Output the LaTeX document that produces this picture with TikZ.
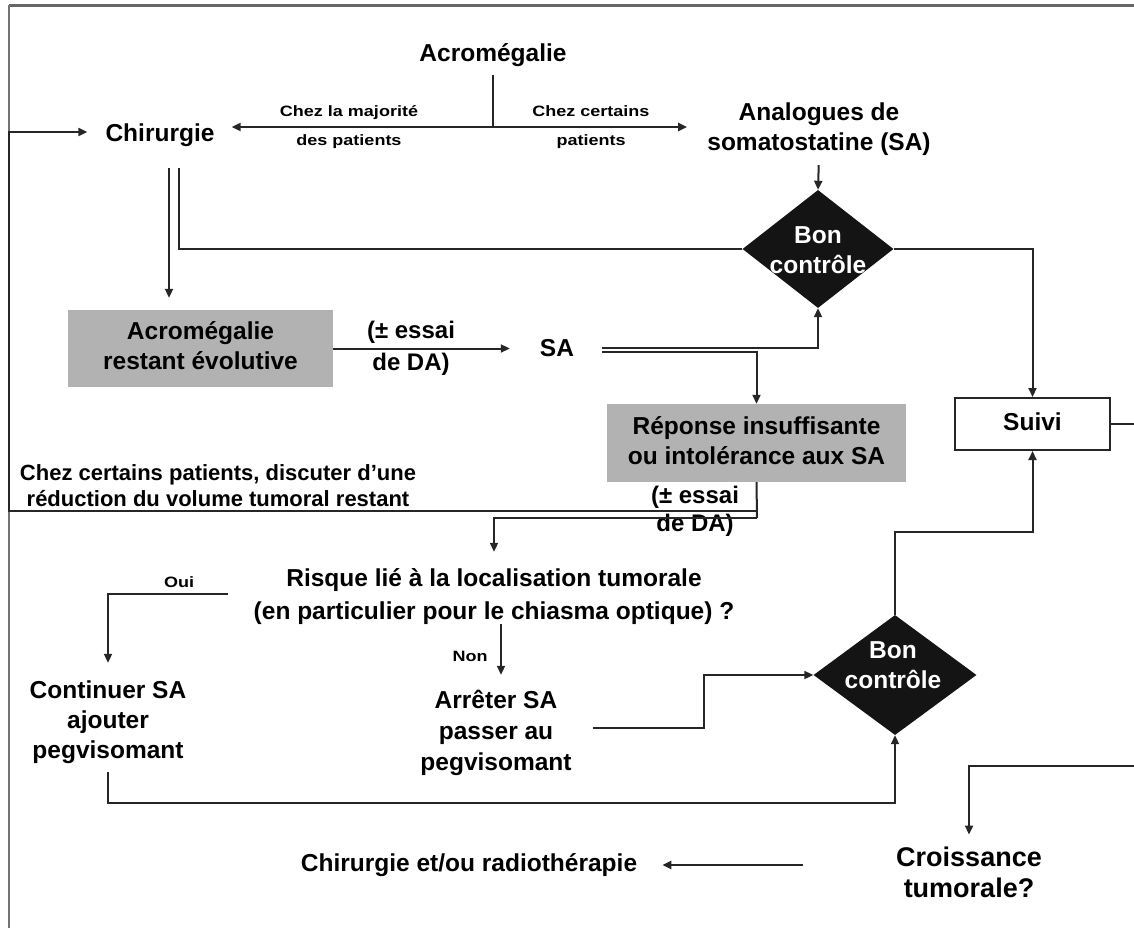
\documentclass[tikz,border=0pt]{standalone}
\usepackage{fontspec}
\setmainfont{Liberation Sans}
\newfontfamily\widefont[FakeStretch=1.2]{Liberation Sans}
\usetikzlibrary{arrows.meta,shapes.geometric}
\newcommand{\fs}[2]{\fontsize{#1}{#2}\selectfont\bfseries}
\newcommand{\wfs}{\widefont\fontsize{15}{18}\selectfont\bfseries}
\begin{document}
\begin{tikzpicture}[x=1pt,y=-1pt,
  ln/.style={line width=2pt, draw=black!85},
  arr/.style={ln, -{Triangle[length=9pt,width=8pt]}},
  txt/.style={inner sep=0pt, align=center, text height=17pt, text depth=5pt, font=\fs{24.5}{30}},
  sml/.style={inner sep=0pt, font=\wfs, text height=11pt, text depth=3pt},
  dia/.style={diamond, fill=black!92, draw=none, inner sep=0pt},
  greybox/.style={txt, fill=gray!60}
]
\useasboundingbox (0,0) rectangle (1134,928);
% frame
\draw[line width=3pt, draw=black!60] (9,6) -- (1134,6);
\draw[line width=1.5pt, draw=black!55] (9,5) -- (9,928);

% nodes
\node[txt] (acro) at (493,56) {Acromégalie};
\node[txt] (chir) at (160,136) {Chirurgie};
\node[txt, text height=47pt] (sa1) at (819,130) {Analogues de\\somatostatine (SA)};
\node[dia, minimum width=151pt, minimum height=118pt] (d1) at (818,249) {};
\node[txt, text=white, text height=47pt] (d1t) at (818,252) {Bon\\contrôle};
\node[greybox, text height=47pt, minimum width=265pt, minimum height=77pt] (box1) at (200.5,348.5) {Acromégalie\\restant évolutive};
\node[txt] (sa2) at (557,350) {SA};
\node[greybox, text height=47pt, minimum width=299pt, minimum height=78pt] (box2) at (756.5,443) {Réponse insuffisante\\ou intolérance aux SA};
\node[txt, draw=black!85, fill=white, line width=2pt, minimum width=155pt, minimum height=52pt] (suivi) at (1032.5,424) {Suivi};
\node[txt, font=\fs{24}{32}, text height=49pt] (ess1) at (411,348) {(± essai\\de DA)};
\node[txt, font=\fs{24}{28}, text height=45pt] (ess2) at (695,511) {(± essai\\de DA)};
\node[txt, font=\fs{22}{26}, text height=41pt, text depth=4.5pt] (chez) at (218,488) {Chez certains patients, discuter d’une\\réduction du volume tumoral restant};
\node[txt, font=\fs{24.5}{33}, text height=50pt] (risque) at (494,596.5) {Risque lié à la localisation tumorale\\(en particulier pour le chiasma optique) ?};
\node[txt, text height=77pt] (cont) at (108,722) {Continuer SA\\ajouter\\pegvisomant};
\node[txt, font=\fs{24.5}{31}, text height=79pt] (stop) at (496,733) {Arrêter SA\\passer au\\pegvisomant};
\node[dia, minimum width=163pt, minimum height=120pt] (d2) at (895,675) {};
\node[txt, text=white, text height=47pt] (d2t) at (893,667) {Bon\\contrôle};
\node[txt, font=\fs{27}{31}, text height=50.5pt, text depth=6pt] (croiss) at (969,875) {Croissance\\tumorale?};
\node[txt] (chirradio) at (469,865) {Chirurgie et/ou radiothérapie};

% small labels
\node[sml] (l1) at (349,113) {Chez la majorité};
\node[sml] (l2) at (349,142) {des patients};
\node[sml] (l3) at (591,113) {Chez certains};
\node[sml] (l4) at (591,142) {patients};
\node[sml] (oui) at (179,583) {Oui};
\node[sml] (non) at (470,657) {Non};

% coordinates
\coordinate (split1) at (493,127);
\coordinate (c1) at (169,168);
\coordinate (c2) at (179,168);
\coordinate (j1) at (757,511);
\coordinate (j2) at (757,518);
\coordinate (fb) at (9,511);
\coordinate (sr) at (1134,424);
\coordinate (cr0) at (1134,766);

% connectors
\draw[ln, shorten <=8pt] (acro.south) -- (split1);
\draw[arr, shorten >=17pt] (split1) -- (split1 -| chir.east);
\draw[arr, shorten >=20pt] (split1) -- (split1 -| sa1.west);
\draw[arr, shorten <=9pt] (sa1.south) -- (d1.north);
\draw[arr, shorten >=12pt] (c1) -- (c1 |- box1.north);
\draw[ln] (c2) |- (d1.west);
\draw[arr] (d1.east) -| (suivi.north);
\draw[arr, shorten >=30pt] (box1.east) -- (box1.east -| sa2.west);
\draw[arr, shorten <=28pt] ([yshift=2pt]sa2.east) -| (d1.south);
\draw[arr, shorten <=28pt] ([yshift=-2pt]sa2.east) -| (box2.north);
\draw[ln] (box2.south) -- (j2);
\draw[arr, shorten >=17pt] (j2) -| (risque.north);
\draw[arr, shorten >=18pt] (j1) -- (fb) |- ([yshift=4pt]chir.west);
\draw[arr, shorten <=26pt, shorten >=18pt] ([yshift=3pt]risque.west) -| (cont.north);
\draw[arr, shorten >=16pt] ([xshift=7pt]risque.south) -- ([xshift=7pt]risque.south |- stop.north);
\draw[arr, shorten <=21pt] ([yshift=5pt]stop.east) -- ++(132,0) |- (d2.west);
\draw[arr, shorten <=9pt] (cont.south) -- ++(0,40) -| (d2.south);
\draw[arr] (d2.north) -- ++(0,-83) -| (suivi.south);
\draw[ln] (suivi.east) -- (sr);
\draw[arr, shorten >=12pt] (cr0) -| (croiss.north);
\draw[arr, shorten <=93pt, shorten >=25pt] (croiss.west |- chirradio.east) -- (chirradio.east);
\end{tikzpicture}
\end{document}
